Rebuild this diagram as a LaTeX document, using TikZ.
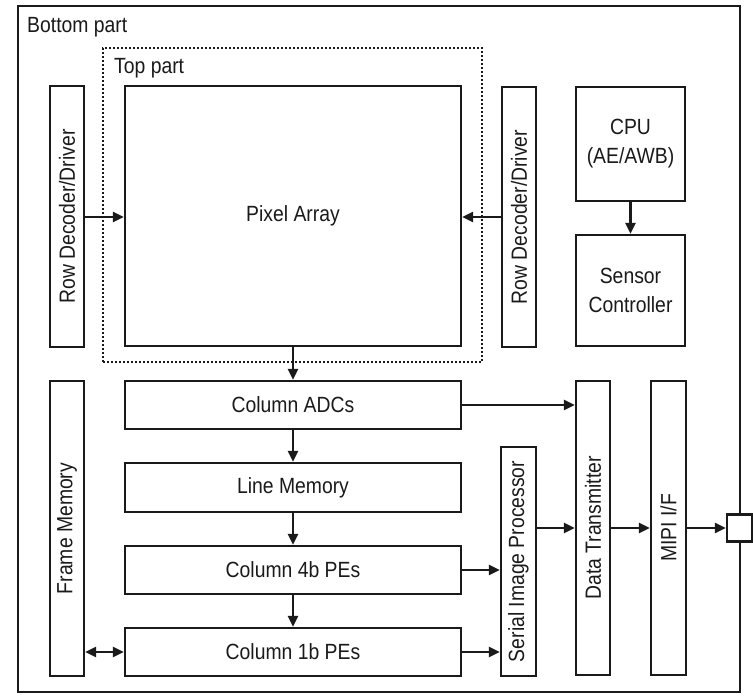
\documentclass[tikz,border=0pt]{standalone}
\usepackage{fontspec}
\setmainfont{Liberation Sans}[FakeStretch=0.88]
\usetikzlibrary{arrows.meta}
\definecolor{ink}{HTML}{1A1A1A}
\tikzset{
  blk/.style={draw=ink, line width=2.2pt, fill=white, inner sep=0pt, text=ink,
    font=\fontsize{22}{29}\selectfont, align=center},
  vlabel/.style={rotate=90, inner sep=0pt, text=ink, font=\fontsize{22}{29}\selectfont},
  arr/.style={draw=ink, line width=2.4pt, -{Triangle[length=11pt,width=10pt]}},
  darr/.style={draw=ink, line width=2.4pt, {Triangle[length=11pt,width=10pt]}-{Triangle[length=11pt,width=10pt]}},
  dotbox/.style={draw=ink, line width=1.8pt, dash pattern=on 1.8pt off 2.2pt, inner sep=0pt},
  txt/.style={inner sep=0pt, text=ink, font=\fontsize{22}{29}\selectfont}
}
\begin{document}
\begin{tikzpicture}[x=1pt,y=-1pt]
\useasboundingbox (0,0) rectangle (753,697);
\fill[white] (0,0) rectangle (753,697);
% outer box
\node[blk, minimum width=722, minimum height=686] (outer) at (379,349) {};
\node[txt, anchor=west] (bottomlbl) at (27,27) {Bottom part};
% dotted top part
\node[dotbox, minimum width=379, minimum height=314] (top) at (292.5,205) {};
\node[txt, anchor=west] (toplbl) at (114,68) {Top part};
% top blocks
\node[blk, minimum width=336, minimum height=260] (pixel) at (293,216) {Pixel Array};
\node[blk, minimum width=34, minimum height=261] (rowL) at (67,216.5) {};
\node[vlabel] (rowLt) at (rowL) {Row Decoder/Driver};
\node[blk, minimum width=34, minimum height=260] (rowR) at (519,217) {};
\node[vlabel] (rowRt) at (rowR) {Row Decoder/Driver};
\node[blk, minimum width=109, minimum height=114] (cpu) at (630.5,144) {CPU\\(AE/AWB)};
\node[blk, minimum width=109, minimum height=111] (sensor) at (630.5,290.5) {Sensor\\Controller};
% bottom blocks
\node[blk, minimum width=336, minimum height=48] (adc) at (293,405) {Column ADCs};
\node[blk, minimum width=336, minimum height=49] (linemem) at (293,487.5) {Line Memory};
\node[blk, minimum width=336, minimum height=48] (c4b) at (293,570) {Column 4b PEs};
\node[blk, minimum width=336, minimum height=48] (c1b) at (293,652) {Column 1b PEs};
\node[blk, minimum width=34, minimum height=295] (frame) at (67,528.5) {};
\node[vlabel] (framet) at (frame) {Frame Memory};
\node[blk, minimum width=35, minimum height=229] (sip) at (518.5,561.5) {};
\node[vlabel] (sipt) at (sip) {Serial Image Processor};
\node[blk, minimum width=34, minimum height=294] (dt) at (593,528) {};
\node[vlabel] (dtt) at (dt) {Data Transmitter};
\node[blk, minimum width=35, minimum height=294] (mipi) at (668.5,528) {};
\node[vlabel] (mipit) at (mipi) {MIPI I/F};
\node[blk, minimum width=25, minimum height=27] (sq) at (739.5,528) {};
% connectors
\draw[arr] (rowL.east |- 0,217) coordinate (rl) -- (rl -| pixel.west);
\draw[arr] (rowR.west |- 0,217) coordinate (rr) -- (rr -| pixel.east);
\draw[arr] (cpu.south) -- (sensor.north);
\draw[arr] (pixel.south) -- (adc.north);
\draw[arr] (adc.south) -- (linemem.north);
\draw[arr] (linemem.south) -- (c4b.north);
\draw[arr] (c4b.south) -- (c1b.north);
\draw[darr] (frame.east |- c1b) -- (c1b.west);
\draw[arr] (adc.east) -- (adc.east -| dt.west);
\draw[arr] (c4b.east) -- (c4b.east -| sip.west);
\draw[arr] (c1b.east) -- (c1b.east -| sip.west);
\draw[arr] (sip.east |- dt) -- (dt.west);
\draw[arr] (dt.east) -- (mipi.west);
\draw[arr] (mipi.east) -- (sq.west);
\end{tikzpicture}
\end{document}
